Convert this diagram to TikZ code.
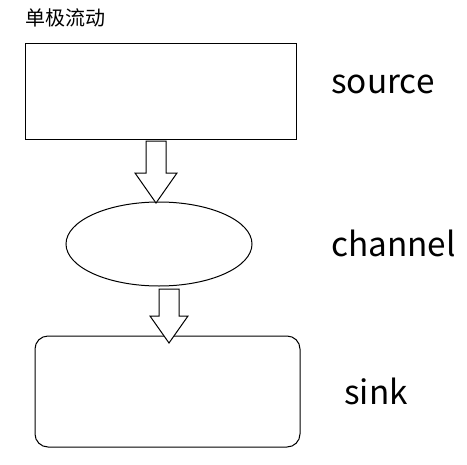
\documentclass[tikz,border=0pt]{standalone}
\usepackage{fontspec}
\newfontfamily\cjk{Noto Sans CJK SC}
\usetikzlibrary{shapes.geometric}

\tikzset{
  box/.style={draw, black, line width=0.75pt, inner sep=0pt},
  blockarrow/.style={draw, black, fill=white, line width=0.75pt, line join=miter},
  lbl/.style={font=\cjk\fontsize{25}{28}\selectfont, inner sep=0pt, anchor=base west}
}

\begin{document}
\begin{tikzpicture}[x=0.75pt, y=-0.75pt]
\useasboundingbox (0,0) rectangle (467,464);
\node[anchor=north west, inner sep=0pt, font=\cjk\fontsize{15}{17}\selectfont] (title) at (25,8) {单极流动};
\node[box, minimum width=271*0.75pt, minimum height=96*0.75pt] (source) at (160.5,91) {};
\node[box, ellipse, minimum width=186*0.75pt, minimum height=84*0.75pt] (channel) at (159,244) {};
\node[box, rounded corners=13*0.75pt, minimum width=265*0.75pt, minimum height=111*0.75pt] (sink) at (167.5,391.5) {};
\node[lbl] (sourcetxt) at (331,93) {source};
\node[lbl] (channeltxt) at (331,256) {channel};
\node[lbl] (sinktxt) at (344,404) {sink};
% block arrows
\coordinate (tip1) at (156,203);
\coordinate (tip2) at (169,343);
\draw[blockarrow] (146,141) -- (146,173) -- (135,173) -- (tip1) -- (177,173) -- (166,173) -- (166,141) -- cycle;
\draw[blockarrow] (159,289) -- (159,316) -- (150,316) -- (tip2) -- (188,316) -- (179,316) -- (179,289) -- cycle;
\end{tikzpicture}
\end{document}
